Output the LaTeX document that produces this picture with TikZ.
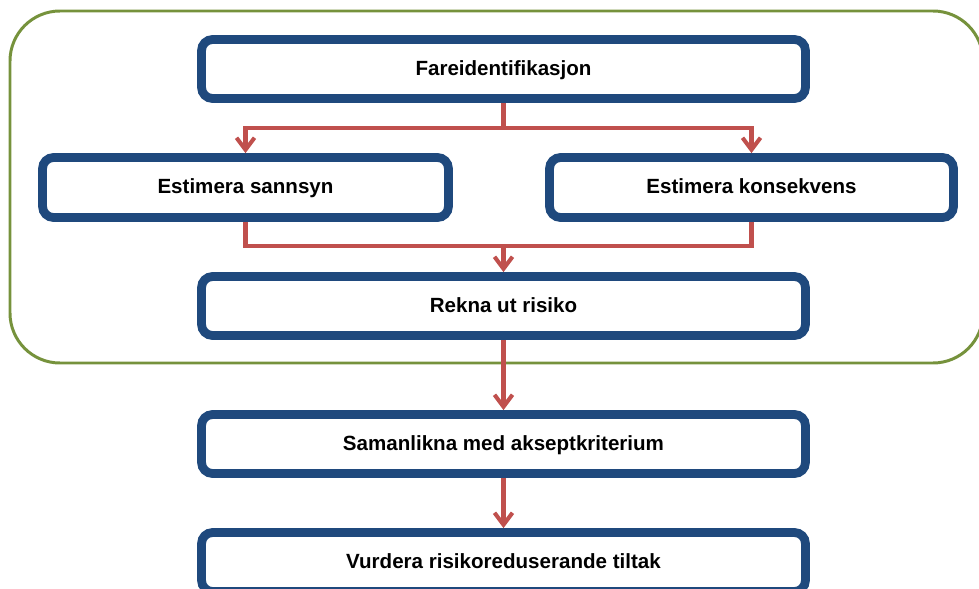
\documentclass[tikz,border=0pt]{standalone}
\usepackage{fontspec}
\setmainfont{Liberation Sans}
\usetikzlibrary{arrows.meta}

\definecolor{boxblue}{RGB}{31,73,125}
\definecolor{flowred}{RGB}{192,80,77}
\definecolor{groupgreen}{RGB}{118,146,60}

\begin{document}
\begin{tikzpicture}[x=0.02cm,y=-0.02cm,
    box/.style={draw=boxblue, line width=5pt, rounded corners=0.22cm, fill=white,
        minimum width=12.08cm, minimum height=1.18cm,
        text height=1.6ex, text depth=0.2ex,
        font=\fontsize{11.7}{14}\selectfont\bfseries},
    flow/.style={draw=flowred, line width=2.3pt},
    tip/.style={-{Straight Barb[length=2.4mm,width=3.6mm]}}]

\useasboundingbox (0,0) rectangle (979,588);

% Group frame round the risk estimate
\draw[groupgreen, line width=1.7pt, rounded corners=1cm] (10,11) rectangle (983,363);

% Steps
\node[box] (fare) at (503.5,69) {Fareidentifikasjon};
\node[box, minimum width=8.12cm, minimum height=1.2cm] (sannsyn) at (245.5,187.5) {Estimera sannsyn};
\node[box, minimum width=8.08cm, minimum height=1.2cm] (konsekvens) at (751.5,187.5) {Estimera konsekvens};
\node[box] (risiko) at (503.5,306) {Rekna ut risiko};
\node[box] (samanlikna) at (503.5,444) {Samanlikna med akseptkriterium};
\node[box] (tiltak) at (503.5,562) {Vurdera risikoreduserande tiltak};

% Split and join points
\coordinate (split) at (503.5,128);
\coordinate (join) at (503.5,246);

% Connectors
\draw[flow] (fare) -- (split);
\draw[flow, tip] (split) -| (sannsyn);
\draw[flow, tip] (split) -| (konsekvens);
\draw[flow] (sannsyn) |- (join);
\draw[flow] (konsekvens) |- (join);
\draw[flow, tip] (join) -- (risiko);
\draw[flow, tip] (risiko) -- (samanlikna);
\draw[flow, tip] (samanlikna) -- (tiltak);

\end{tikzpicture}
\end{document}
